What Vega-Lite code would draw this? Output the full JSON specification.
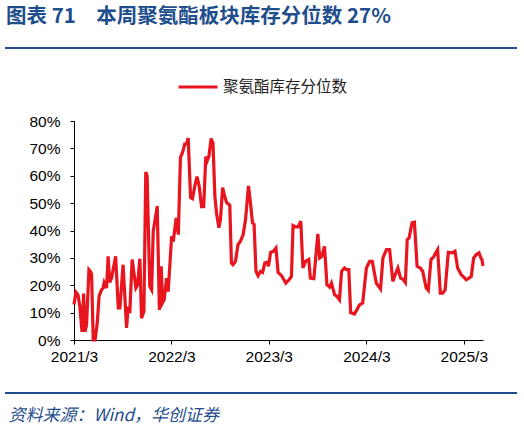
{
  "$schema": "https://vega.github.io/schema/vega-lite/v6.json",
  "width": 512,
  "height": 345,
  "autosize": "none",
  "padding": {"left": 5, "top": 48, "right": 7, "bottom": 35},
  "background": "white",
  "view": {"stroke": "#1F4E8C", "strokeWidth": 2, "strokeDash": [512, 345], "fill": null},
  "title": {
    "text": "图表  71　本周聚氨酯板块库存分位数 27%",
    "anchor": "start",
    "frame": "group",
    "orient": "top",
    "baseline": "alphabetic",
    "offset": 5,
    "dx": 1,
    "font": "Noto Sans CJK SC",
    "fontSize": 20.5,
    "fontWeight": "bold",
    "color": "#1F4E8C"
  },
  "data": {
    "values": [
      {"date": "2021-03-01", "v": 13},
      {"date": "2021-03-08", "v": 17.5},
      {"date": "2021-03-16", "v": 16.5},
      {"date": "2021-03-23", "v": 12.2},
      {"date": "2021-03-31", "v": 3},
      {"date": "2021-04-06", "v": 17},
      {"date": "2021-04-11", "v": 3},
      {"date": "2021-04-17", "v": 5.5},
      {"date": "2021-04-26", "v": 25.7},
      {"date": "2021-05-02", "v": 25},
      {"date": "2021-05-06", "v": 24},
      {"date": "2021-05-12", "v": 0},
      {"date": "2021-05-19", "v": 0},
      {"date": "2021-05-27", "v": 6},
      {"date": "2021-06-03", "v": 16},
      {"date": "2021-06-12", "v": 18.3},
      {"date": "2021-06-18", "v": 19},
      {"date": "2021-06-22", "v": 21},
      {"date": "2021-07-01", "v": 19},
      {"date": "2021-07-07", "v": 30.6},
      {"date": "2021-07-13", "v": 21},
      {"date": "2021-07-20", "v": 22.7},
      {"date": "2021-08-04", "v": 30.6},
      {"date": "2021-08-14", "v": 11.7},
      {"date": "2021-08-20", "v": 11.7},
      {"date": "2021-09-01", "v": 27.5},
      {"date": "2021-09-14", "v": 4.4},
      {"date": "2021-09-20", "v": 12.2},
      {"date": "2021-09-26", "v": 9.8},
      {"date": "2021-10-05", "v": 29.4},
      {"date": "2021-10-19", "v": 19},
      {"date": "2021-10-25", "v": 20},
      {"date": "2021-11-03", "v": 29.7},
      {"date": "2021-11-09", "v": 8},
      {"date": "2021-11-18", "v": 10.4},
      {"date": "2021-11-25", "v": 61.4},
      {"date": "2021-11-30", "v": 60},
      {"date": "2021-12-10", "v": 19.6},
      {"date": "2021-12-17", "v": 18.3},
      {"date": "2021-12-23", "v": 39.7},
      {"date": "2022-01-07", "v": 48.9},
      {"date": "2022-01-15", "v": 11},
      {"date": "2022-01-22", "v": 26.9},
      {"date": "2022-01-27", "v": 13.6},
      {"date": "2022-02-02", "v": 14.7},
      {"date": "2022-02-11", "v": 22.6},
      {"date": "2022-02-17", "v": 17.7},
      {"date": "2022-03-02", "v": 37.9},
      {"date": "2022-03-08", "v": 36},
      {"date": "2022-03-19", "v": 44.6},
      {"date": "2022-03-27", "v": 38.5},
      {"date": "2022-04-04", "v": 66.7},
      {"date": "2022-04-12", "v": 68.5},
      {"date": "2022-04-20", "v": 71.6},
      {"date": "2022-04-27", "v": 71.6},
      {"date": "2022-05-03", "v": 73.8},
      {"date": "2022-05-12", "v": 52},
      {"date": "2022-05-19", "v": 51.6},
      {"date": "2022-05-28", "v": 56.3},
      {"date": "2022-06-05", "v": 59.7},
      {"date": "2022-06-13", "v": 56.3},
      {"date": "2022-06-22", "v": 48.7},
      {"date": "2022-06-30", "v": 48.7},
      {"date": "2022-07-08", "v": 67},
      {"date": "2022-07-13", "v": 65.4},
      {"date": "2022-07-20", "v": 67.3},
      {"date": "2022-07-28", "v": 73.6},
      {"date": "2022-08-04", "v": 71.9},
      {"date": "2022-08-11", "v": 52.6},
      {"date": "2022-08-17", "v": 46.5},
      {"date": "2022-08-26", "v": 41},
      {"date": "2022-09-01", "v": 44},
      {"date": "2022-09-09", "v": 55.7},
      {"date": "2022-09-17", "v": 52.4},
      {"date": "2022-09-24", "v": 50.2},
      {"date": "2022-10-06", "v": 49.2},
      {"date": "2022-10-12", "v": 28.1},
      {"date": "2022-10-18", "v": 27.5},
      {"date": "2022-10-27", "v": 28.7},
      {"date": "2022-11-06", "v": 34.9},
      {"date": "2022-11-15", "v": 36.1},
      {"date": "2022-11-25", "v": 38.5},
      {"date": "2022-12-04", "v": 44},
      {"date": "2022-12-15", "v": 56.3},
      {"date": "2022-12-23", "v": 49.5},
      {"date": "2022-12-30", "v": 42.8},
      {"date": "2023-01-05", "v": 42.2},
      {"date": "2023-01-12", "v": 25.1},
      {"date": "2023-01-20", "v": 23.5},
      {"date": "2023-01-29", "v": 25.1},
      {"date": "2023-02-06", "v": 24.7},
      {"date": "2023-02-14", "v": 28.1},
      {"date": "2023-02-23", "v": 28.4},
      {"date": "2023-02-28", "v": 26.9},
      {"date": "2023-03-08", "v": 32},
      {"date": "2023-03-18", "v": 32.4},
      {"date": "2023-03-28", "v": 33.6},
      {"date": "2023-04-05", "v": 24.7},
      {"date": "2023-04-18", "v": 23.5},
      {"date": "2023-05-04", "v": 20.8},
      {"date": "2023-05-16", "v": 22},
      {"date": "2023-05-25", "v": 23.2},
      {"date": "2023-05-31", "v": 41.8},
      {"date": "2023-06-10", "v": 41.3},
      {"date": "2023-06-19", "v": 41.3},
      {"date": "2023-06-29", "v": 43.4},
      {"date": "2023-07-07", "v": 26.3},
      {"date": "2023-07-17", "v": 28.7},
      {"date": "2023-07-29", "v": 29.4},
      {"date": "2023-08-04", "v": 22.6},
      {"date": "2023-08-17", "v": 22.4},
      {"date": "2023-09-01", "v": 38.8},
      {"date": "2023-09-08", "v": 30},
      {"date": "2023-09-16", "v": 30.6},
      {"date": "2023-09-26", "v": 34.2},
      {"date": "2023-10-05", "v": 20.2},
      {"date": "2023-10-15", "v": 19.3},
      {"date": "2023-10-22", "v": 20.8},
      {"date": "2023-11-03", "v": 16.5},
      {"date": "2023-11-12", "v": 15.9},
      {"date": "2023-11-21", "v": 14.7},
      {"date": "2023-11-29", "v": 25.1},
      {"date": "2023-12-10", "v": 26.3},
      {"date": "2023-12-18", "v": 25.7},
      {"date": "2023-12-26", "v": 25.7},
      {"date": "2024-01-02", "v": 10},
      {"date": "2024-01-16", "v": 9.5},
      {"date": "2024-01-25", "v": 11},
      {"date": "2024-02-04", "v": 12.8},
      {"date": "2024-02-16", "v": 13.5},
      {"date": "2024-03-01", "v": 26.3},
      {"date": "2024-03-13", "v": 28.7},
      {"date": "2024-03-23", "v": 28.7},
      {"date": "2024-04-07", "v": 20.8},
      {"date": "2024-04-23", "v": 18.6},
      {"date": "2024-05-02", "v": 30},
      {"date": "2024-05-15", "v": 33},
      {"date": "2024-05-27", "v": 33},
      {"date": "2024-06-08", "v": 21.4},
      {"date": "2024-06-17", "v": 23.9},
      {"date": "2024-06-27", "v": 26.3},
      {"date": "2024-07-07", "v": 22.6},
      {"date": "2024-07-15", "v": 22.3},
      {"date": "2024-07-25", "v": 21},
      {"date": "2024-08-01", "v": 36.7},
      {"date": "2024-08-08", "v": 37.3},
      {"date": "2024-08-19", "v": 42.8},
      {"date": "2024-08-28", "v": 43},
      {"date": "2024-09-07", "v": 26.9},
      {"date": "2024-09-19", "v": 26.3},
      {"date": "2024-09-28", "v": 25.1},
      {"date": "2024-10-11", "v": 19},
      {"date": "2024-10-19", "v": 18.1},
      {"date": "2024-10-29", "v": 29.4},
      {"date": "2024-11-08", "v": 30.4},
      {"date": "2024-11-17", "v": 32},
      {"date": "2024-11-23", "v": 33},
      {"date": "2024-12-03", "v": 17.1},
      {"date": "2024-12-12", "v": 17.1},
      {"date": "2024-12-21", "v": 18.3},
      {"date": "2025-01-02", "v": 32},
      {"date": "2025-01-16", "v": 31.8},
      {"date": "2025-01-27", "v": 32.4},
      {"date": "2025-02-06", "v": 26.3},
      {"date": "2025-02-19", "v": 23.9},
      {"date": "2025-03-01", "v": 23},
      {"date": "2025-03-10", "v": 22},
      {"date": "2025-03-19", "v": 22.5},
      {"date": "2025-03-29", "v": 23.2},
      {"date": "2025-04-07", "v": 30},
      {"date": "2025-04-17", "v": 31.2},
      {"date": "2025-04-27", "v": 31.8},
      {"date": "2025-05-04", "v": 30},
      {"date": "2025-05-08", "v": 29.4},
      {"date": "2025-05-12", "v": 27}
    ]
  },
  "mark": {"type": "line", "strokeWidth": 3.2},
  "encoding": {
    "x": {
      "field": "date",
      "type": "temporal",
      "scale": {
        "type": "utc",
        "domain": [
          {"year": 2021, "month": 3, "date": 1, "utc": true},
          {"year": 2025, "month": 5, "date": 12, "utc": true}
        ],
        "range": [69, 478]
      },
      "axis": {
        "offset": -53,
        "values": [
          {"year": 2021, "month": 3, "date": 1, "utc": true},
          {"year": 2022, "month": 3, "date": 1, "utc": true},
          {"year": 2023, "month": 3, "date": 1, "utc": true},
          {"year": 2024, "month": 3, "date": 1, "utc": true},
          {"year": 2025, "month": 3, "date": 1, "utc": true}
        ],
        "format": "%Y/%-m",
        "grid": false,
        "domainColor": "#000000",
        "tickColor": "#000000",
        "tickSize": 4,
        "labelFont": "Liberation Sans",
        "labelFontSize": 15.5,
        "labelColor": "#000000",
        "labelPadding": 5,
        "labelFlush": false,
        "labelOverlap": false,
        "title": "资料来源：Wind，华创证券",
        "titleFont": "Noto Sans CJK SC",
        "titleFontSize": 17,
        "titleFontStyle": "italic",
        "titleFontWeight": "normal",
        "titleColor": "#1F4E8C",
        "titleX": 3,
        "titleY": 80,
        "titleAlign": "left",
        "titleBaseline": "alphabetic",
        "titleAnchor": "start"
      }
    },
    "y": {
      "field": "v",
      "type": "quantitative",
      "scale": {"domain": [0, 80], "range": [292, 73], "nice": false},
      "axis": {
        "offset": -69,
        "values": [0, 10, 20, 30, 40, 50, 60, 70, 80],
        "labelExpr": "datum.value + '%'",
        "grid": false,
        "title": null,
        "domainColor": "#000000",
        "tickColor": "#000000",
        "tickSize": 4,
        "labelFont": "Liberation Sans",
        "labelFontSize": 15.5,
        "labelColor": "#000000",
        "labelPadding": 10
      }
    },
    "color": {
      "datum": "聚氨酯库存分位数",
      "type": "nominal",
      "scale": {"range": ["#E8141E"]},
      "legend": {
        "orient": "none",
        "legendX": 172,
        "legendY": 18,
        "title": null,
        "padding": 0,
        "symbolType": "stroke",
        "symbolSize": 1521,
        "symbolStrokeWidth": 3,
        "labelFont": "Noto Sans CJK SC",
        "labelFontSize": 15.5,
        "labelColor": "#222222",
        "labelOffset": 4
      }
    }
  }
}
